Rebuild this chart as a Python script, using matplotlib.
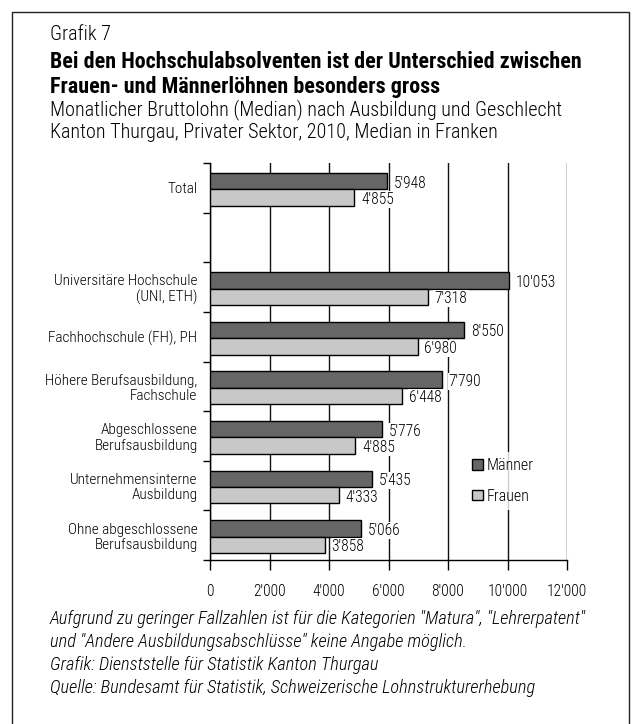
import matplotlib
matplotlib.use("Agg")
import matplotlib.pyplot as plt
from matplotlib.patches import Rectangle, Patch

plt.rcParams['font.family'] = ['Roboto Condensed', 'DejaVu Sans']
plt.rcParams['font.weight'] = 300

categories = ["Total", "", "Universitäre Hochschule\n(UNI, ETH)", "Fachhochschule (FH), PH",
              "Höhere Berufsausbildung,\nFachschule", "Abgeschlossene\nBerufsausbildung",
              "Unternehmensinterne\nAusbildung", "Ohne abgeschlossene\nBerufsausbildung"]
maenner = [5948, None, 10053, 8550, 7790, 5776, 5435, 5066]
frauen = [4855, None, 7318, 6980, 6448, 4885, 4333, 3858]
xticks = [0, 2000, 4000, 6000, 8000, 10000, 12000]
series_names = ["Männer", "Frauen"]

W, H = 636, 724
fig = plt.figure(figsize=(W / 100, H / 100), dpi=100)

def fx(px):
    return px / W

def fy(py):
    return 1 - py / H

# outer frame
fig.add_artist(Rectangle((fx(12), fy(740)), fx(617), (740 - 12) / H, transform=fig.transFigure,
                         fill=False, edgecolor='#222222', linewidth=1.0))

ax = fig.add_axes([fx(210), fy(560), fx(567 - 210), (560 - 163) / H])

def fmt(v):
    return f"{v:,}".replace(",", "'")

c_m = '#666666'
c_f = '#c8c8c8'
fs_cat = 11
fs_val = 11.2
bh = 0.33
for i, (m, f) in enumerate(zip(maenner, frauen)):
    if m is None:
        continue
    ax.barh(i - bh / 2 + 0.03, m, height=bh, color=c_m, edgecolor='black', linewidth=1.0, zorder=3)
    ax.barh(i + bh / 2 + 0.03, f, height=bh, color=c_f, edgecolor='black', linewidth=1.0, zorder=3)
    ax.text(m + 230, i - bh / 2 + 0.07, fmt(m), va='center', ha='left', fontsize=fs_val,
            bbox=dict(facecolor='white', edgecolor='none', pad=0.8), zorder=4)
    ax.text(f + 230, i + bh / 2 + 0.07, fmt(f), va='center', ha='left', fontsize=fs_val,
            bbox=dict(facecolor='white', edgecolor='none', pad=0.8), zorder=4)

ax.set_xlim(0, 12000)
ax.set_ylim(7.5, -0.5)
ax.set_xticks(xticks)
ax.set_xticklabels([fmt(v) for v in xticks], fontsize=fs_val)
ax.tick_params(axis='x', direction='out', length=7, width=1, pad=10, colors='black')
ax.set_yticks(range(len(categories)))
ax.set_yticklabels(categories, fontsize=fs_cat, linespacing=1.1)
ax.tick_params(axis='y', which='major', length=0, pad=9)
ax.set_yticks([k + 0.5 for k in range(-1, len(categories))], minor=True)
ax.tick_params(axis='y', which='minor', direction='out', length=5, width=1)
ax.grid(axis='x', color='#111111', linewidth=1.0, zorder=1)
ax.set_axisbelow(True)
for s in ['top', 'right']:
    ax.spines[s].set_visible(False)
ax.spines['left'].set_linewidth(1.0)
ax.spines['bottom'].set_linewidth(1.0)

handles = [Patch(facecolor=c_m, edgecolor='black', linewidth=1.0),
           Patch(facecolor=c_f, edgecolor='black', linewidth=1.0)]
leg = fig.legend(handles, series_names, loc='upper left', bbox_to_anchor=(fx(466), fy(452)),
                 frameon=True, fontsize=11.5, handlelength=0.65, handleheight=0.65,
                 handletextpad=0.25, labelspacing=0.95, borderpad=0.4, borderaxespad=0)
leg.get_frame().set_facecolor('white')
leg.get_frame().set_edgecolor('none')

tx = fx(50)
fig.text(tx, fy(35), "Grafik 7", fontsize=14.5, va='center', ha='left')
fig.text(tx, fy(62), "Bei den Hochschulabsolventen ist der Unterschied zwischen", fontsize=15.8,
         fontweight='bold', va='center', ha='left')
fig.text(tx, fy(87), "Frauen- und Männerlöhnen besonders gross", fontsize=15.8,
         fontweight='bold', va='center', ha='left')
fig.text(tx, fy(110), "Monatlicher Bruttolohn (Median) nach Ausbildung und Geschlecht", fontsize=14.5,
         va='center', ha='left')
fig.text(tx, fy(132), "Kanton Thurgau, Privater Sektor, 2010, Median in Franken", fontsize=14.5,
         va='center', ha='left')

notes = ['Aufgrund zu geringer Fallzahlen ist für die Kategorien "Matura", "Lehrerpatent"',
         'und "Andere Ausbildungsabschlüsse" keine Angabe möglich.',
         'Grafik: Dienststelle für Statistik Kanton Thurgau',
         'Quelle: Bundesamt für Statistik, Schweizerische Lohnstrukturerhebung']
for k, n in enumerate(notes):
    fig.text(tx, fy(619 + 23 * k), n, fontsize=13.2, style='italic', va='center', ha='left')

fig.savefig("out.png", dpi=100)
